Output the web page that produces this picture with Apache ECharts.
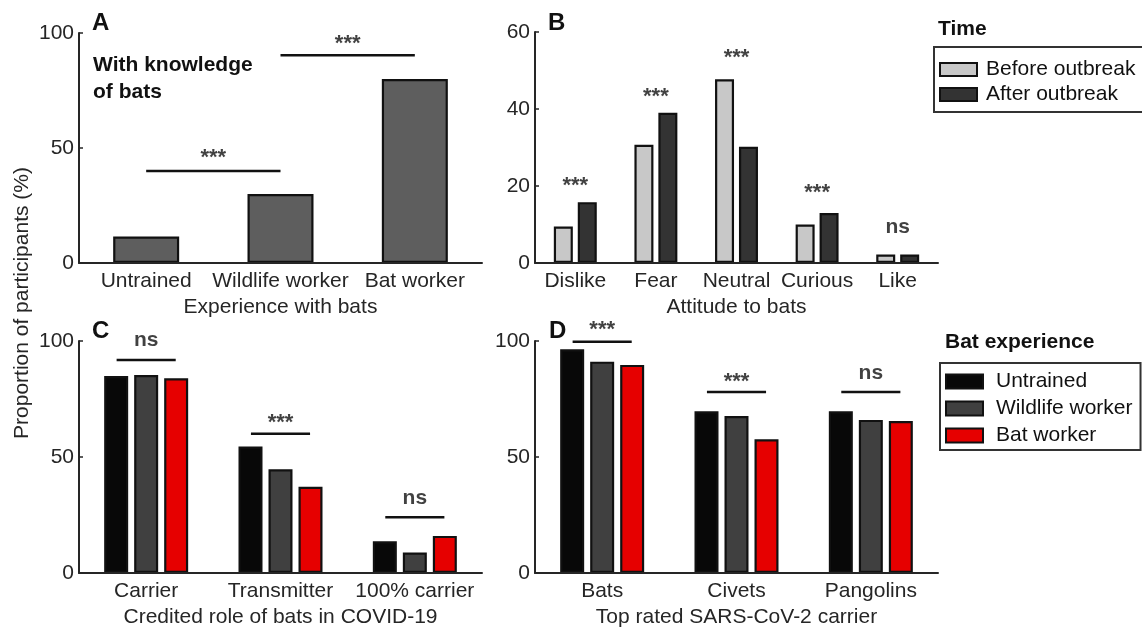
<!DOCTYPE html>
<html><head><meta charset="utf-8">
<script src="https://cdn.jsdelivr.net/npm/echarts@6/dist/echarts.min.js"></script>
<style>html,body{margin:0;padding:0;background:#fff}#c{width:1142px;height:629px}</style>
</head><body><div id="c"></div>
<script>
// ---- data ----
const catsA = ['Untrained', 'Wildlife worker', 'Bat worker'];
const valsA = [11.5, 30, 80];

const catsB = ['Dislike', 'Fear', 'Neutral', 'Curious', 'Like'];
const beforeB = [9.5, 30.7, 47.7, 10, 2.2];
const afterB = [15.8, 39, 30.2, 13, 2.2];

const catsC = ['Carrier', 'Transmitter', '100% carrier'];
const untrainedC = [84.9, 54.5, 13.7];
const wildlifeC = [85.3, 44.7, 8.8];
const batC = [83.9, 37.2, 16];

const catsD = ['Bats', 'Civets', 'Pangolins'];
const untrainedD = [96.4, 69.7, 69.7];
const wildlifeD = [91.1, 67.7, 66];
const batD = [89.7, 57.6, 65.5];

const ticksA = [0, 50, 100];
const ticksB = [0, 20, 40, 60];

// significance annotations (levels in data units)
const bracketsA = [[0, 1, 40], [1, 2, 90.3]];
const sigA = ['***', '***'];
const sigAy = [47, 96.6];
const sigB = ['***', '***', '***', '***', 'ns'];
const sigBy = [20.8, 43.9, 54, 19, 9.1];
const bracketsC = [91.8, 60, 24];
const sigC = ['ns', '***', 'ns'];
const sigCy = [99.7, 66, 31.8];
const bracketsD = [99.7, 78, 78];
const sigD = ['***', '***', 'ns'];
const sigDy = [106, 83.6, 85.6];

// ---- styles ----
const FONT = '"Liberation Sans", Arial, Helvetica, sans-serif';
const AX = '#262626';
const grids = [
  {left: 79, top: 33, width: 403, height: 230},
  {left: 535, top: 32, width: 403, height: 231},
  {left: 79, top: 341, width: 403, height: 232},
  {left: 535, top: 341, width: 403, height: 232}
];
function catAxis(g, data, name) {
  return {
    type: 'category', gridIndex: g, data: data, z: 5,
    axisLine: {lineStyle: {color: AX, width: 2}},
    axisTick: {inside: true, alignWithLabel: true, length: 4, lineStyle: {color: AX, width: 1.5}},
    axisLabel: {fontSize: 21, color: AX, margin: 8, fontFamily: FONT, interval: 0, hideOverlap: false},
    name: name, nameLocation: 'middle', nameGap: 34,
    nameTextStyle: {fontSize: 21, color: AX, fontFamily: FONT}
  };
}
function valAxis(g, ticks) {
  return {
    type: 'value', gridIndex: g, min: ticks[0], max: ticks[ticks.length - 1],
    interval: ticks[1] - ticks[0], z: 5,
    axisLine: {show: true, lineStyle: {color: AX, width: 2}},
    axisTick: {show: true, inside: true, length: 4, lineStyle: {color: AX, width: 1.5}},
    splitLine: {show: false},
    axisLabel: {fontSize: 21, color: AX, margin: 5, fontFamily: FONT}
  };
}
function hiddenX(g, n) {
  return {type: 'value', gridIndex: g, min: 0, max: n, show: false};
}
const border = {borderColor: '#111', borderWidth: 2.2};
function bar(name, g, data, color, w, gap) {
  return {
    type: 'bar', name: name, xAxisIndex: g, yAxisIndex: g, data: data,
    barWidth: w, barGap: gap, silent: true,
    itemStyle: Object.assign({color: color}, border)
  };
}
function bracket(g, x0, x1, y) {
  return {
    type: 'line', xAxisIndex: 4 + g, yAxisIndex: g, data: [[x0, y], [x1, y]],
    symbol: 'none', clip: false, silent: true,
    lineStyle: {color: '#111', width: 2.5}
  };
}
function texts(g, labels, xs, ys) {
  return {
    type: 'scatter', xAxisIndex: 4 + g, yAxisIndex: g, symbolSize: 0, clip: false, silent: true,
    data: labels.map((t, i) => ({
      value: [xs[i], ys[i]],
      label: {
        show: true, position: 'inside', formatter: t, fontFamily: FONT,
        fontSize: t === 'ns' ? 21 : 22, color: '#111', fontWeight: 'bold',
        offset: [0, t === 'ns' ? -1 : 3]
      }
    }))
  };
}
const HALF = 0.22;
const series = [];
series.push(bar('A', 0, valsA, '#5e5e5e', 66, '0%'));
series.push(bar('Before outbreak', 1, beforeB, '#c8c8c8', 19, '26%'));
series.push(bar('After outbreak', 1, afterB, '#333333', 19, '26%'));
series.push(bar('Untrained', 2, untrainedC, '#080808', 24, '25%'));
series.push(bar('Wildlife worker', 2, wildlifeC, '#404040', 24, '25%'));
series.push(bar('Bat worker', 2, batC, '#e60000', 24, '25%'));
series.push(bar('Untrained', 3, untrainedD, '#080808', 24, '25%'));
series.push(bar('Wildlife worker', 3, wildlifeD, '#404040', 24, '25%'));
series.push(bar('Bat worker', 3, batD, '#e60000', 24, '25%'));

bracketsA.forEach(b => series.push(bracket(0, b[0] + 0.5, b[1] + 0.5, b[2])));
series.push(texts(0, sigA, bracketsA.map(b => (b[0] + b[1]) / 2 + 0.5), sigAy));
series.push(texts(1, sigB, catsB.map((c, i) => i + 0.5), sigBy));
bracketsC.forEach((y, i) => series.push(bracket(2, i + 0.5 - HALF, i + 0.5 + HALF, y)));
series.push(texts(2, sigC, catsC.map((c, i) => i + 0.5), sigCy));
bracketsD.forEach((y, i) => series.push(bracket(3, i + 0.5 - HALF, i + 0.5 + HALF, y)));
series.push(texts(3, sigD, catsD.map((c, i) => i + 0.5), sigDy));

function txt(x, y, text, size, bold, extra) {
  return Object.assign({
    type: 'text', x: x, y: y, z: 10,
    style: {text: text, fontSize: size, fontWeight: bold ? 'bold' : 'normal', fontFamily: FONT,
            fill: '#111', verticalAlign: 'middle', align: 'left'}
  }, extra || {});
}
const legendBase = {
  orient: 'vertical', icon: 'rect', itemWidth: 37, selectedMode: false,
  borderColor: '#333', borderWidth: 2,
  textStyle: {fontSize: 21, color: '#111', fontFamily: FONT}
};
const option = {
  animation: false,
  backgroundColor: '#fff',
  grid: grids,
  xAxis: [
    catAxis(0, catsA, 'Experience with bats'),
    catAxis(1, catsB, 'Attitude to bats'),
    catAxis(2, catsC, 'Credited role of bats in COVID-19'),
    catAxis(3, catsD, 'Top rated SARS-CoV-2 carrier'),
    hiddenX(0, catsA.length), hiddenX(1, catsB.length), hiddenX(2, catsC.length), hiddenX(3, catsD.length)
  ],
  yAxis: [valAxis(0, ticksA), valAxis(1, ticksB), valAxis(2, ticksA), valAxis(3, ticksA)],
  legend: [
    Object.assign({}, legendBase, {
      data: ['Before outbreak', 'After outbreak'], left: 934, top: 47,
      itemHeight: 13, itemGap: 4, padding: [12, 16, 7, 5],
      textStyle: Object.assign({}, legendBase.textStyle, {padding: [0, 0, 0, 4]})
    }),
    Object.assign({}, legendBase, {
      data: ['Untrained', 'Wildlife worker', 'Bat worker'], left: 940, top: 363,
      itemHeight: 14, itemGap: 6, padding: [8, 8, 4, 5],
      textStyle: Object.assign({}, legendBase.textStyle, {padding: [0, 0, 0, 8]})
    })
  ],
  graphic: [
    txt(92, 23, 'A', 24, true),
    txt(548, 23, 'B', 24, true),
    txt(92, 331, 'C', 24, true),
    txt(549, 331, 'D', 24, true),
    txt(93, 65, 'With knowledge', 21, true),
    txt(93, 92, 'of bats', 21, true),
    txt(938, 29, 'Time', 21, true),
    txt(945, 342, 'Bat experience', 21, true),
    {
      type: 'text', x: 22, y: 303, rotation: Math.PI / 2, z: 10,
      style: {text: 'Proportion of participants (%)', fontSize: 21, fontFamily: FONT, fill: AX,
              align: 'center', verticalAlign: 'middle'}
    }
  ],
  series: series
};
const chart = echarts.init(document.getElementById('c'), null, {renderer: 'canvas'});
chart.setOption(option);
</script></body></html>
